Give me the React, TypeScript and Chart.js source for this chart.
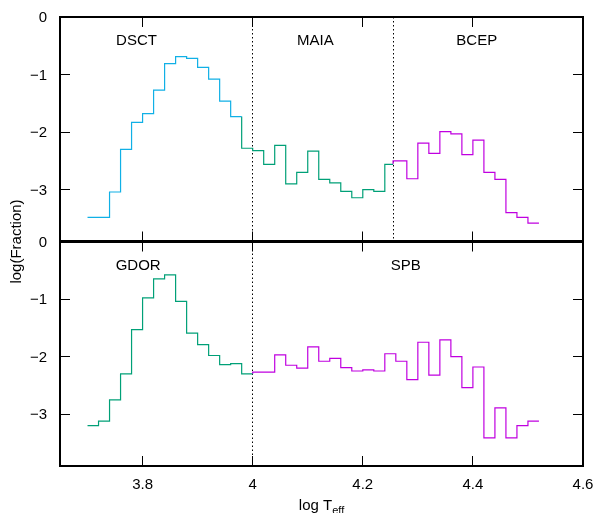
import React, { useEffect, useRef } from 'react';
import { Chart, registerables } from 'chart.js';
Chart.register(...registerables);

// ---- axes ----
const X_MIN = 3.65;
const X_MAX = 4.6;
const PANEL_MIN = -3.9;
const PANEL_MAX = 0;
const xTicks = [3.8, 4.0, 4.2, 4.4, 4.6];
const xTickLabels = ['3.8', '4', '4.2', '4.4', '4.6'];
const yTicks = [0, -1, -2, -3];
const yTickLabels = ['0', '\u22121', '\u22122', '\u22123'];

// ---- top panel series (bin left edges, log fraction) ----
const dsctEdges = [3.70, 3.72, 3.74, 3.76, 3.78, 3.80, 3.82, 3.84, 3.86, 3.88, 3.90, 3.92, 3.94, 3.96];
const dsctValues = [-3.48, -3.48, -3.04, -2.30, -1.83, -1.68, -1.27, -0.81, -0.69, -0.72, -0.875, -1.08, -1.46, -1.73];
const dsctEnd = 3.98;

const maiaEdges = [3.98, 4.00, 4.02, 4.04, 4.06, 4.08, 4.10, 4.12, 4.14, 4.16, 4.18, 4.20, 4.22, 4.24];
const maiaValues = [-2.28, -2.32, -2.56, -2.23, -2.90, -2.70, -2.33, -2.82, -2.88, -3.03, -3.14, -3.00, -3.03, -2.56];
const maiaEnd = 4.255;

const bcepEdges = [4.255, 4.28, 4.30, 4.32, 4.34, 4.36, 4.38, 4.40, 4.42, 4.44, 4.46, 4.48, 4.50];
const bcepValues = [-2.50, -2.81, -2.19, -2.37, -1.99, -2.03, -2.39, -2.14, -2.70, -2.82, -3.40, -3.48, -3.58];
const bcepEnd = 4.52;

// ---- bottom panel series ----
const gdorEdges = [3.70, 3.72, 3.74, 3.76, 3.78, 3.80, 3.82, 3.84, 3.86, 3.88, 3.90, 3.92, 3.94, 3.96, 3.98];
const gdorValues = [-3.20, -3.12, -2.75, -2.30, -1.53, -0.98, -0.65, -0.58, -1.04, -1.59, -1.79, -1.98, -2.14, -2.12, -2.30];
const gdorEnd = 4.00;

const spbEdges = [4.00, 4.02, 4.04, 4.06, 4.08, 4.10, 4.12, 4.14, 4.16, 4.18, 4.20, 4.22, 4.24, 4.26, 4.28, 4.30, 4.32, 4.34, 4.36, 4.38, 4.40, 4.42, 4.44, 4.46, 4.48, 4.50];
const spbValues = [-2.27, -2.27, -1.97, -2.15, -2.20, -1.83, -2.08, -2.03, -2.19, -2.25, -2.23, -2.25, -1.95, -2.08, -2.40, -1.75, -2.32, -1.71, -2.00, -2.54, -2.18, -3.41, -2.89, -3.41, -3.20, -3.12];
const spbEnd = 4.52;

// ---- class boundaries and labels ----
const topBoundaries = [4.0, 4.255];
const bottomBoundaries = [4.0];
const topLabels = ['DSCT', 'MAIA', 'BCEP'];
const topLabelX = [3.789, 4.114, 4.407];
const bottomLabels = ['GDOR', 'SPB'];
const bottomLabelX = [3.792, 4.278];
const labelY = -0.49;

const CYAN = '#10b0e6';
const GREEN = '#00a077';
const MAGENTA = '#c000e0';
const FONT = '"Liberation Sans", Arial, sans-serif';

function histPoints(edges: number[], values: number[], end: number, startLevel?: number) {
  const pts: { x: number; y: number }[] = [];
  if (startLevel !== undefined) pts.push({ x: edges[0], y: startLevel });
  for (let i = 0; i < edges.length; i++) {
    const right = i + 1 < edges.length ? edges[i + 1] : end;
    pts.push({ x: edges[i], y: values[i] });
    pts.push({ x: right, y: values[i] });
  }
  return pts;
}

const framePlugin = {
  id: 'frame',
  beforeDatasetsDraw(chart: any) {
    const ctx = chart.ctx;
    const { top, bottom } = chart.chartArea;
    const xs = chart.scales.x;
    const mid = chart.scales.yT.getPixelForValue(PANEL_MIN);
    ctx.save();
    ctx.strokeStyle = '#000';
    ctx.lineWidth = 1;
    ctx.setLineDash([1.5, 2.5]);
    for (const b of topBoundaries) {
      const px = Math.floor(xs.getPixelForValue(b)) + 0.5;
      ctx.beginPath(); ctx.moveTo(px, top); ctx.lineTo(px, mid); ctx.stroke();
    }
    for (const b of bottomBoundaries) {
      const px = Math.floor(xs.getPixelForValue(b)) + 0.5;
      ctx.beginPath(); ctx.moveTo(px, mid); ctx.lineTo(px, bottom); ctx.stroke();
    }
    ctx.restore();
  },
  afterDraw(chart: any) {
    const ctx = chart.ctx;
    const { left, right, top, bottom } = chart.chartArea;
    const xs = chart.scales.x;
    const yT = chart.scales.yT;
    const yB = chart.scales.yB;
    const mid = yT.getPixelForValue(PANEL_MIN);
    const T = 10;
    ctx.save();
    ctx.strokeStyle = '#000';
    ctx.lineWidth = 1;
    // x ticks on all horizontal borders
    for (const v of xTicks) {
      const px = Math.floor(xs.getPixelForValue(v)) + 0.5;
      if (px > right - 2) continue;
      ctx.beginPath();
      ctx.moveTo(px, top); ctx.lineTo(px, top + T);
      ctx.moveTo(px, mid); ctx.lineTo(px, mid - T);
      ctx.moveTo(px, mid); ctx.lineTo(px, mid + T);
      ctx.moveTo(px, bottom); ctx.lineTo(px, bottom - T);
      ctx.stroke();
    }
    // y ticks on left and right
    for (const v of yTicks) {
      if (v === 0) continue;
      for (const s of [yT, yB]) {
        const py = Math.floor(s.getPixelForValue(v)) + 0.5;
        ctx.beginPath();
        ctx.moveTo(left, py); ctx.lineTo(left + T, py);
        ctx.moveTo(right, py); ctx.lineTo(right - T, py);
        ctx.stroke();
      }
    }
    // frame
    ctx.lineWidth = 2;
    ctx.strokeRect(left, top, right - left, bottom - top);
    ctx.lineWidth = 3;
    ctx.beginPath(); ctx.moveTo(left - 1, mid); ctx.lineTo(right + 1, mid); ctx.stroke();

    // tick labels
    ctx.fillStyle = '#000';
    ctx.font = `15px ${FONT}`;
    ctx.textAlign = 'right';
    ctx.textBaseline = 'middle';
    for (let i = 0; i < yTicks.length; i++) {
      for (const s of [yT, yB]) {
        ctx.fillText(yTickLabels[i], left - 13, s.getPixelForValue(yTicks[i]) + 1);
      }
    }
    ctx.textAlign = 'center';
    ctx.textBaseline = 'alphabetic';
    for (let i = 0; i < xTicks.length; i++) {
      ctx.fillText(xTickLabels[i], xs.getPixelForValue(xTicks[i]), bottom + 22.5);
    }
    // panel labels
    for (let i = 0; i < topLabels.length; i++) {
      ctx.fillText(topLabels[i], xs.getPixelForValue(topLabelX[i]), yT.getPixelForValue(labelY));
    }
    for (let i = 0; i < bottomLabels.length; i++) {
      ctx.fillText(bottomLabels[i], xs.getPixelForValue(bottomLabelX[i]), yB.getPixelForValue(labelY));
    }
    // x title: log T_eff
    const main = 'log T';
    const sub = 'eff';
    ctx.font = `15px ${FONT}`;
    const w1 = ctx.measureText(main).width;
    ctx.font = `11px ${FONT}`;
    const w2 = ctx.measureText(sub).width;
    const cx = (left + right) / 2;
    const x0 = cx - (w1 + w2) / 2;
    ctx.textAlign = 'left';
    ctx.font = `15px ${FONT}`;
    ctx.fillText(main, x0, bottom + 44);
    ctx.font = `11px ${FONT}`;
    ctx.fillText(sub, x0 + w1, bottom + 48);
    // y title
    ctx.save();
    ctx.font = `15px ${FONT}`;
    ctx.translate(17, mid);
    ctx.rotate(-Math.PI / 2);
    ctx.textAlign = 'center';
    ctx.textBaseline = 'middle';
    ctx.fillText('log(Fraction)', 0, 0);
    ctx.restore();
    ctx.restore();
  },
};

export default function App() {
  const ref = useRef<HTMLCanvasElement | null>(null);
  useEffect(() => {
    if (!ref.current) return;
    const line = (label: string, data: any[], color: string, yAxisID: string) => ({
      label, data, borderColor: color, backgroundColor: color, borderWidth: 1.2,
      pointRadius: 0, tension: 0, fill: false, yAxisID, xAxisID: 'x',
    });
    const chart = new Chart(ref.current, {
      type: 'line',
      data: {
        datasets: [
          line('DSCT', histPoints(dsctEdges, dsctValues, dsctEnd), CYAN, 'yT'),
          line('MAIA', histPoints(maiaEdges, maiaValues, maiaEnd, dsctValues[dsctValues.length - 1]), GREEN, 'yT'),
          line('BCEP', histPoints(bcepEdges, bcepValues, bcepEnd, maiaValues[maiaValues.length - 1]), MAGENTA, 'yT'),
          line('GDOR', histPoints(gdorEdges, gdorValues, gdorEnd), GREEN, 'yB'),
          line('SPB', histPoints(spbEdges, spbValues, spbEnd, gdorValues[gdorValues.length - 1]), MAGENTA, 'yB'),
        ],
      },
      options: {
        responsive: false,
        animation: false,
        devicePixelRatio: 1,
        layout: { padding: { left: 60, right: 14, top: 17, bottom: 47 } },
        plugins: { legend: { display: false }, tooltip: { enabled: false }, title: { display: false } },
        scales: {
          x: { type: 'linear', min: X_MIN, max: X_MAX, display: false },
          yT: { type: 'linear', min: PANEL_MIN * 2, max: PANEL_MAX, display: false },
          yB: { type: 'linear', min: PANEL_MIN, max: -PANEL_MIN, display: false },
        },
      },
      plugins: [framePlugin],
    });
    return () => chart.destroy();
  }, []);
  return (
    <div style={{ position: 'absolute', left: 0, top: 0, width: 597, height: 513, background: '#fff' }}>
      <canvas ref={ref} width={597} height={513} style={{ display: 'block' }} />
    </div>
  );
}
